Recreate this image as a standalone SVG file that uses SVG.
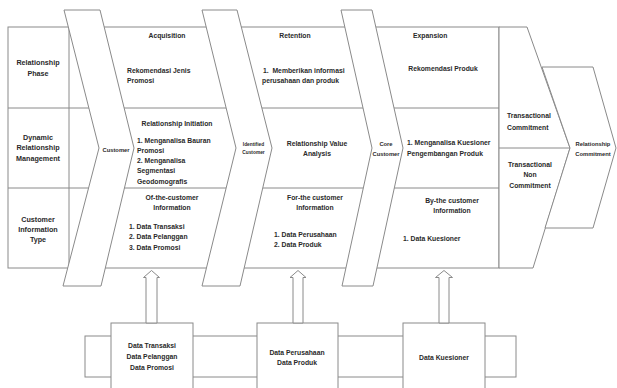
<svg xmlns="http://www.w3.org/2000/svg" width="617" height="388" viewBox="0 0 617 388">
  <style>
    .ln { fill: none; stroke: #8a8a8a; stroke-width: 1; }
    .sh { fill: #ffffff; stroke: #8a8a8a; stroke-width: 1; stroke-linejoin: miter; }
    text { font-family: "Liberation Sans", Arial, sans-serif; font-weight: bold; font-size: 6.8px; fill: #2a2a2a; }
    .c { text-anchor: middle; }
    .hd { font-size: 7.2px; }
    .sm { font-size: 5.8px; }
    .xs { font-size: 4.8px; }
  </style>
  <rect width="617" height="388" fill="#ffffff"/>

  <!-- table grid -->
  <g id="table">
    <rect class="ln" x="8" y="27" width="491" height="241"/>
    <line class="ln" x1="8" y1="108" x2="499" y2="108"/>
    <line class="ln" x1="8" y1="188" x2="499" y2="188"/>
    <line class="ln" x1="69" y1="27" x2="69" y2="268"/>
    <text class="c hd" x="38" y="64.5">Relationship</text>
    <text class="c hd" x="38" y="75.5">Phase</text>
    <text class="c hd" x="38" y="139.5">Dynamic</text>
    <text class="c hd" x="38" y="150">Relationship</text>
    <text class="c hd" x="38" y="160.5">Management</text>
    <text class="c hd" x="38" y="221.5">Customer</text>
    <text class="c hd" x="38" y="231.5">Information</text>
    <text class="c hd" x="38" y="241.5">Type</text>
  </g>

  <!-- stage chevrons -->
  <g id="customer">
    <polygon class="sh" points="64,10 100,10 134,148 101,286 63,286 99,148"/>
    <text class="c sm" x="116" y="151.5">Customer</text>
  </g>
  <g id="identified-customer">
    <polygon class="sh" points="202,10 237,10 272,148 240,286 202,286 236,148"/>
    <text class="c xs" x="253.5" y="146">Identified</text>
    <text class="c xs" x="253.5" y="154">Customer</text>
  </g>
  <g id="core-customer">
    <polygon class="sh" points="341,10 372,10 403,148 373,286 342,286 372,148"/>
    <text class="c sm" x="386" y="146">Core</text>
    <text class="c sm" x="386" y="156">Customer</text>
  </g>

  <!-- acquisition column -->
  <g id="acquisition">
    <text class="c" x="167" y="37.5">Acquisition</text>
    <text x="127" y="72.5">Rekomendasi Jenis</text>
    <text x="127" y="82.5">Promosi</text>
    <text class="c" x="177" y="125.5">Relationship Initiation</text>
    <text x="137" y="142.5">1. Menganalisa Bauran</text>
    <text x="137" y="153">Promosi</text>
    <text x="137" y="163">2. Menganalisa</text>
    <text x="137" y="173">Segmentasi</text>
    <text x="137" y="183.5">Geodomografis</text>
    <text class="c" x="172" y="199.5">Of-the-customer</text>
    <text class="c" x="172" y="209.5">Information</text>
    <text x="129" y="228.5">1. Data Transaksi</text>
    <text x="129" y="239">2. Data Pelanggan</text>
    <text x="129" y="249.5">3. Data Promosi</text>
  </g>

  <!-- retention column -->
  <g id="retention">
    <text class="c" x="295" y="37.5">Retention</text>
    <text x="263" y="72.5" xml:space="preserve">1.  Memberikan informasi</text>
    <text x="262" y="82.5">perusahaan dan produk</text>
    <text class="c" x="317" y="145.5">Relationship Value</text>
    <text class="c" x="317" y="155.5">Analysis</text>
    <text class="c" x="315" y="199.5">For-the customer</text>
    <text class="c" x="315" y="209.5">Information</text>
    <text x="274" y="236.5">1. Data Perusahaan</text>
    <text x="274" y="246.5">2. Data Produk</text>
  </g>

  <!-- expansion column -->
  <g id="expansion">
    <text x="413" y="37.5">Expansion</text>
    <text class="c" x="443" y="70.5">Rekomendasi Produk</text>
    <text x="407" y="144.5">1. Menganalisa Kuesioner</text>
    <text x="407" y="155.5">Pengembangan Produk</text>
    <text class="c" x="452" y="202.5">By-the customer</text>
    <text class="c" x="452" y="212.5">Information</text>
    <text x="403" y="240.5">1. Data Kuesioner</text>
  </g>

  <!-- commitment block -->
  <g id="transactional">
    <polygon class="sh" points="499,27 527,27 570,148 533,268 499,268"/>
    <line class="ln" x1="499" y1="148" x2="570" y2="148"/>
    <text x="507" y="117.5">Transactional</text>
    <text x="507" y="129.5">Commitment</text>
    <text class="c" x="530" y="166.5">Transactional</text>
    <text class="c" x="530" y="176.5">Non</text>
    <text class="c" x="530" y="187.5">Commitment</text>
  </g>
  <g id="relationship-commitment">
    <polygon class="sh" points="542,67 593,67 616,148 593,228 545,228 570,148"/>
    <text class="c sm" x="593" y="146">Relationship</text>
    <text class="c sm" x="593" y="156">Commitment</text>
  </g>

  <!-- data sources -->
  <g id="data-band">
    <rect class="ln" x="85" y="336" width="431" height="41"/>
  </g>
  <g id="source-1">
    <rect class="sh" x="111" y="323" width="82" height="80"/>
    <text class="c" x="152" y="347.5">Data Transaksi</text>
    <text class="c" x="152" y="359">Data Pelanggan</text>
    <text class="c" x="152" y="370">Data Promosi</text>
  </g>
  <g id="source-2">
    <rect class="sh" x="257" y="323" width="81" height="80"/>
    <text class="c" x="297" y="354.5">Data Perusahaan</text>
    <text class="c" x="297" y="364.5">Data Produk</text>
  </g>
  <g id="source-3">
    <rect class="sh" x="403" y="323" width="82" height="80"/>
    <text class="c" x="444" y="359.5">Data Kuesioner</text>
  </g>

  <!-- block arrows feeding the information rows -->
  <g id="connectors">
    <polygon class="sh" points="151.5,270.5 159.5,277.5 157,277.5 157,323 146,323 146,277.5 143.5,277.5"/>
    <polygon class="sh" points="298,270.5 306,277.5 303,277.5 303,323 293,323 293,277.5 290,277.5"/>
    <polygon class="sh" points="444,270.5 452.5,277.5 449,277.5 449,323 439,323 439,277.5 435.5,277.5"/>
  </g>
</svg>
